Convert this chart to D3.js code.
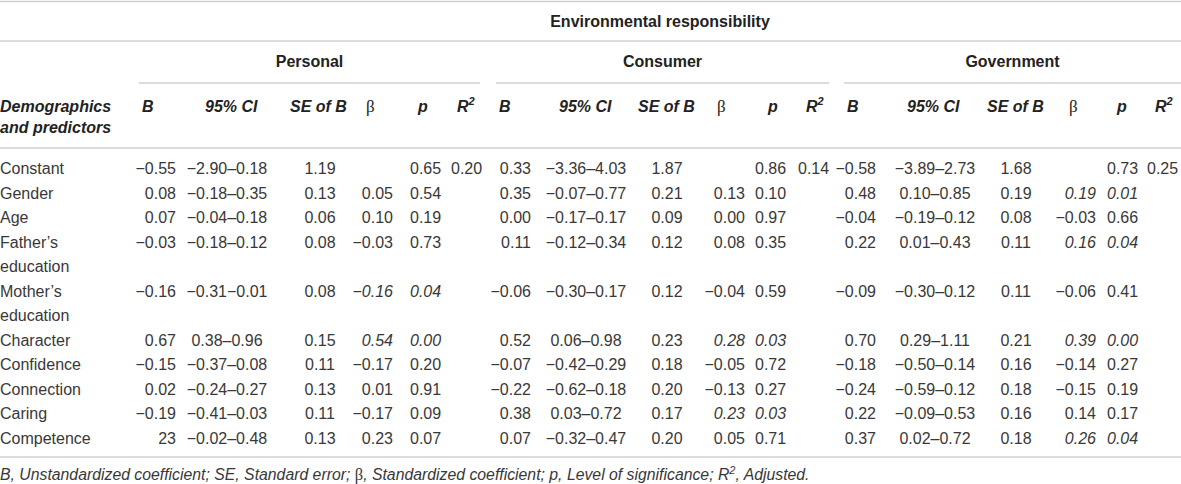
<!DOCTYPE html>
<meta charset="utf-8">
<head>
 <title>Environmental responsibility</title>
</head>

<style>
body { margin: 0; background: #fff; }
text { font-family: "Liberation Sans", Arial, sans-serif; font-size: 16px; fill: #383838; }
.hd { font-weight: bold; fill: #222; }
.sym { font-family: "Liberation Serif", "DejaVu Serif", serif; font-style: normal; font-weight: normal; }
.rule { stroke: #d0d0d0; stroke-width: 1.5; }
</style>

<body>
 <svg width="1181" height="484"></svg>

 <script src="https://d3js.org/d3.v7.min.js"></script>

 <script>
// table values
var predictors = ["Constant", "Gender", "Age", "Father’s\neducation", "Mother’s\neducation",
  "Character", "Confidence", "Connection", "Caring", "Competence"]
var groups = ["Personal", "Consumer", "Government"]

var personalB = ["−0.55", "0.08", "0.07", "−0.03", "−0.16", "0.67", "−0.15", "0.02", "−0.19", "23"]
var personalCI = ["−2.90–0.18", "−0.18–0.35", "−0.04–0.18", "−0.18–0.12", "−0.31−0.01", "0.38–0.96", "−0.37–0.08", "−0.24–0.27", "−0.41–0.03", "−0.02–0.48"]
var personalSE = ["1.19", "0.13", "0.06", "0.08", "0.08", "0.15", "0.11", "0.13", "0.11", "0.13"]
var personalBeta = ["", "0.05", "0.10", "−0.03", "−0.16", "0.54", "−0.17", "0.01", "−0.17", "0.23"]
var personalP = ["0.65", "0.54", "0.19", "0.73", "0.04", "0.00", "0.20", "0.91", "0.09", "0.07"]
var personalR2 = ["0.20", "", "", "", "", "", "", "", "", ""]

var consumerB = ["0.33", "0.35", "0.00", "0.11", "−0.06", "0.52", "−0.07", "−0.22", "0.38", "0.07"]
var consumerCI = ["−3.36–4.03", "−0.07–0.77", "−0.17–0.17", "−0.12–0.34", "−0.30–0.17", "0.06–0.98", "−0.42–0.29", "−0.62–0.18", "0.03–0.72", "−0.32–0.47"]
var consumerSE = ["1.87", "0.21", "0.09", "0.12", "0.12", "0.23", "0.18", "0.20", "0.17", "0.20"]
var consumerBeta = ["", "0.13", "0.00", "0.08", "−0.04", "0.28", "−0.05", "−0.13", "0.23", "0.05"]
var consumerP = ["0.86", "0.10", "0.97", "0.35", "0.59", "0.03", "0.72", "0.27", "0.03", "0.71"]
var consumerR2 = ["0.14", "", "", "", "", "", "", "", "", ""]

var governmentB = ["−0.58", "0.48", "−0.04", "0.22", "−0.09", "0.70", "−0.18", "−0.24", "0.22", "0.37"]
var governmentCI = ["−3.89–2.73", "0.10–0.85", "−0.19–0.12", "0.01–0.43", "−0.30–0.12", "0.29–1.11", "−0.50–0.14", "−0.59–0.12", "−0.09–0.53", "0.02–0.72"]
var governmentSE = ["1.68", "0.19", "0.08", "0.11", "0.11", "0.21", "0.16", "0.18", "0.16", "0.18"]
var governmentBeta = ["", "0.19", "−0.03", "0.16", "−0.06", "0.39", "−0.14", "−0.15", "0.14", "0.26"]
var governmentP = ["0.73", "0.01", "0.66", "0.04", "0.41", "0.00", "0.27", "0.19", "0.17", "0.04"]
var governmentR2 = ["0.25", "", "", "", "", "", "", "", "", ""]

var colKeys = ["B", "CI", "SE", "beta", "p", "R2"]

var width = 1181, height = 484
var svg = d3.select("svg")

// layout: header / data x per column, per group
var headX = {
  Personal:   [142, 205, 290, 366, 418, 457],
  Consumer:   [499, 559, 638, 717, 768, 806],
  Government: [847, 907, 987, 1069, 1117, 1155]
}
var cellX = {
  Personal:   [176, 227, 320, 393, 410, 451],
  Consumer:   [531, 586, 667, 745, 755, 798],
  Government: [876, 935, 1016, 1096, 1107, 1147]
}
var cellAnchor = ["end", "middle", "middle", "end", "start", "start"]
var spans = { Personal: [139, 480], Consumer: [496, 829], Government: [844, 1181] }

var tableData = {
  Personal: [personalB, personalCI, personalSE, personalBeta, personalP, personalR2],
  Consumer: [consumerB, consumerCI, consumerSE, consumerBeta, consumerP, consumerR2],
  Government: [governmentB, governmentCI, governmentSE, governmentBeta, governmentP, governmentR2]
}

// rule lines
function rule(x1, x2, y) {
  svg.append("line").attr("class", "rule")
    .attr("x1", x1).attr("x2", x2).attr("y1", y).attr("y2", y)
}
rule(0, width, 1.5)
rule(0, width, 41)
rule(0, width, 148)
rule(0, width, 457)
groups.forEach(function(g) { rule(spans[g][0], spans[g][1], 83) })

// top headers
svg.append("text").attr("class", "hd")
  .attr("x", (spans.Personal[0] + width) / 2).attr("y", 27)
  .attr("text-anchor", "middle")
  .text("Environmental responsibility")

svg.selectAll(".grp").data(groups).enter()
  .append("text").attr("class", "hd grp")
  .attr("x", function(g) { return (spans[g][0] + spans[g][1]) / 2 })
  .attr("y", 67)
  .attr("text-anchor", "middle")
  .text(function(g) { return g })

// column header row
var hdrY = 112
var dh = svg.append("text").attr("class", "hd").attr("x", 0).attr("y", hdrY)
  .style("font-style", "italic")
dh.append("tspan").attr("x", 0).text("Demographics")
dh.append("tspan").attr("x", 0).attr("dy", 21).text("and predictors")

groups.forEach(function(g) {
  var xs = headX[g]
  colKeys.forEach(function(k, i) {
    var t = svg.append("text").attr("class", "hd").attr("x", xs[i]).attr("y", hdrY)
      .style("font-style", "italic")
    if (k == "B") t.text("B")
    if (k == "CI") t.text("95% CI")
    if (k == "SE") t.text("SE of B")
    if (k == "beta") t.append("tspan").attr("class", "sym").style("font-size", "17px").text("β")
    if (k == "p") t.text("p")
    if (k == "R2") {
      t.append("tspan").text("R")
      t.append("tspan").attr("dy", -7).style("font-size", "11px").text("2")
    }
  })
})

// body rows: line index -> y
var lineCount = predictors.map(function(p) { return p.split("\n").length })
var lineStart = []
var acc = 0
lineCount.forEach(function(n) { lineStart.push(acc); acc += n })
var y = d3.scaleLinear().domain([0, acc - 1]).range([168, 438])

// predictor labels
predictors.forEach(function(p, i) {
  var t = svg.append("text").attr("x", 0)
  p.split("\n").forEach(function(s, j) {
    t.append("tspan").attr("x", 0).attr("y", y(lineStart[i] + j) + 6).text(s)
  })
})

// cells
groups.forEach(function(g) {
  var cols = tableData[g]
  var pvals = cols[4]
  cols.forEach(function(vals, ci) {
    svg.selectAll(null).data(vals).enter()
      .append("text")
      .attr("x", cellX[g][ci])
      .attr("y", function(d, i) { return y(lineStart[i]) + 6 })
      .attr("text-anchor", cellAnchor[ci])
      .style("font-style", function(d, i) {
        return (ci == 3 || ci == 4) && +pvals[i] < 0.05 ? "italic" : "normal"
      })
      .text(function(d) { return d })
  })
})

// footnote
var fn = svg.append("text").attr("x", 0).attr("y", 480)
  .style("font-style", "italic").style("font-size", "15.8px")
fn.append("tspan").text("B, Unstandardized coefficient; SE, Standard error; ")
fn.append("tspan").attr("class", "sym").style("font-size", "16.5px").text("β")
fn.append("tspan").text(", Standardized coefficient; p, Level of significance; R")
fn.append("tspan").attr("dy", -6).style("font-size", "11px").text("2")
fn.append("tspan").attr("dy", 6).text(", Adjusted.")
 </script>

</body>
</html>
